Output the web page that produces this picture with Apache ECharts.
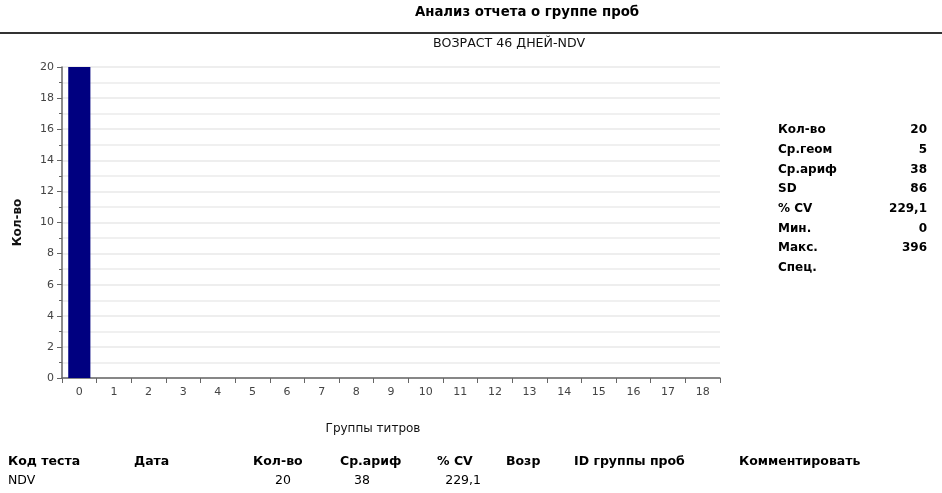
<!DOCTYPE html>
<html><head><meta charset="utf-8">
<script src="https://cdn.jsdelivr.net/npm/echarts@6/dist/echarts.min.js"></script>
<style>html,body{margin:0;padding:0;background:#fff}#c{width:942px;height:493px}</style>
</head><body><div id="c"></div>
<script>
const pageTitle = 'Анализ отчета о группе проб';
const chartTitle = 'ВОЗРАСТ 46 ДНЕЙ-NDV';
const xName = 'Группы титров';
const yName = 'Кол-во';
const categories = ['0','1','2','3','4','5','6','7','8','9','10','11','12','13','14','15','16','17','18'];
const counts = [20,0,0,0,0,0,0,0,0,0,0,0,0,0,0,0,0,0,0];
const statLabels = ['Кол-во','Ср.геом','Ср.ариф','SD','% CV','Мин.','Макс.','Спец.'];
const statValues = ['20','5','38','86','229,1','0','396',''];
const tableHeaders = ['Код теста','Дата','Кол-во','Ср.ариф','% CV','Возраст','ID группы проб','Комментировать'];
const tableRow = ['NDV','','20','38','229,1','','',''];

const chart = echarts.init(document.getElementById('c'));
const F = '"DejaVu Sans", Verdana, sans-serif';

const graphics = [];
graphics.push({type:'text', style:{text: pageTitle, x: 527, y: 13, align:'center', verticalAlign:'middle', font:'bold 13.3px ' + F, fill:'#000'}});
graphics.push({type:'rect', shape:{x:0, y:32, width:942, height:2}, style:{fill:'#333'}});
graphics.push({type:'text', style:{text: chartTitle, x: 509, y: 44, align:'center', verticalAlign:'middle', font:'12.6px ' + F, fill:'#111'}});
// stats
statLabels.forEach((l, i) => {
  const y = 130 + i * 19.7;
  graphics.push({type:'text', style:{text: l, x: 778, y: y, align:'left', verticalAlign:'middle', font:'bold 12px ' + F, fill:'#000'}});
  graphics.push({type:'text', style:{text: statValues[i], x: 927, y: y, align:'right', verticalAlign:'middle', font:'bold 12px ' + F, fill:'#000'}});
});
// table
const hx = [8, 134, 253, 340, 437, 506, 574, 739];
const hw = [120, 110, 52, 90, 65, 46, 160, 200];
tableHeaders.forEach((h, i) => {
  graphics.push({type:'text', style:{text: h, x: hx[i], y: 462, align:'left', verticalAlign:'middle', font:'bold 12.5px ' + F, fill:'#000', width: hw[i], overflow:'truncate', ellipsis:''}});
});
const rx = [8, null, 291, 370, 481];
tableRow.forEach((v, i) => {
  if (!v) return;
  graphics.push({type:'text', style:{text: v, x: rx[i], y: 481, align: i === 0 ? 'left' : 'right', verticalAlign:'middle', font:'12.5px ' + F, fill:'#000'}});
});

chart.setOption({
  animation: false,
  grid: {left: 62, right: 222, top: 67, bottom: 115, containLabel: false},
  xAxis: {
    type: 'category', data: categories,
    name: xName, nameLocation: 'middle', nameGap: 45,
    nameTextStyle: {fontFamily: F, fontSize: 12, color: '#111', padding: [0, 36, 0, 0]},
    axisLine: {lineStyle: {color: '#666', width: 1.5}},
    axisTick: {show: true, length: 5, alignWithLabel: false, lineStyle: {color: '#666'}},
    axisLabel: {fontFamily: F, fontSize: 11, color: '#444', margin: 9, interval: 0},
    splitLine: {show: false}
  },
  yAxis: {
    type: 'value', min: 0, max: 20, interval: 2,
    name: yName, nameLocation: 'middle', nameGap: 38, nameRotate: 90,
    nameTextStyle: {fontFamily: F, fontSize: 12, fontWeight: 'bold', color: '#111'},
    axisLine: {show: true, lineStyle: {color: '#666', width: 1.5}},
    axisTick: {show: true, length: 5, lineStyle: {color: '#666'}},
    minorTick: {show: true, splitNumber: 2, length: 3, lineStyle: {color: '#666'}},
    axisLabel: {fontFamily: F, fontSize: 11, color: '#444', margin: 8},
    splitLine: {show: true, lineStyle: {color: '#e8e8e8', width: 1.5}},
    minorSplitLine: {show: true, lineStyle: {color: '#ececec', width: 1.5}}
  },
  series: [{
    type: 'bar', data: counts, barWidth: '64%',
    itemStyle: {color: '#000080', borderWidth: 0},
    z: 3
  }],
  graphic: graphics
});
</script></body></html>
